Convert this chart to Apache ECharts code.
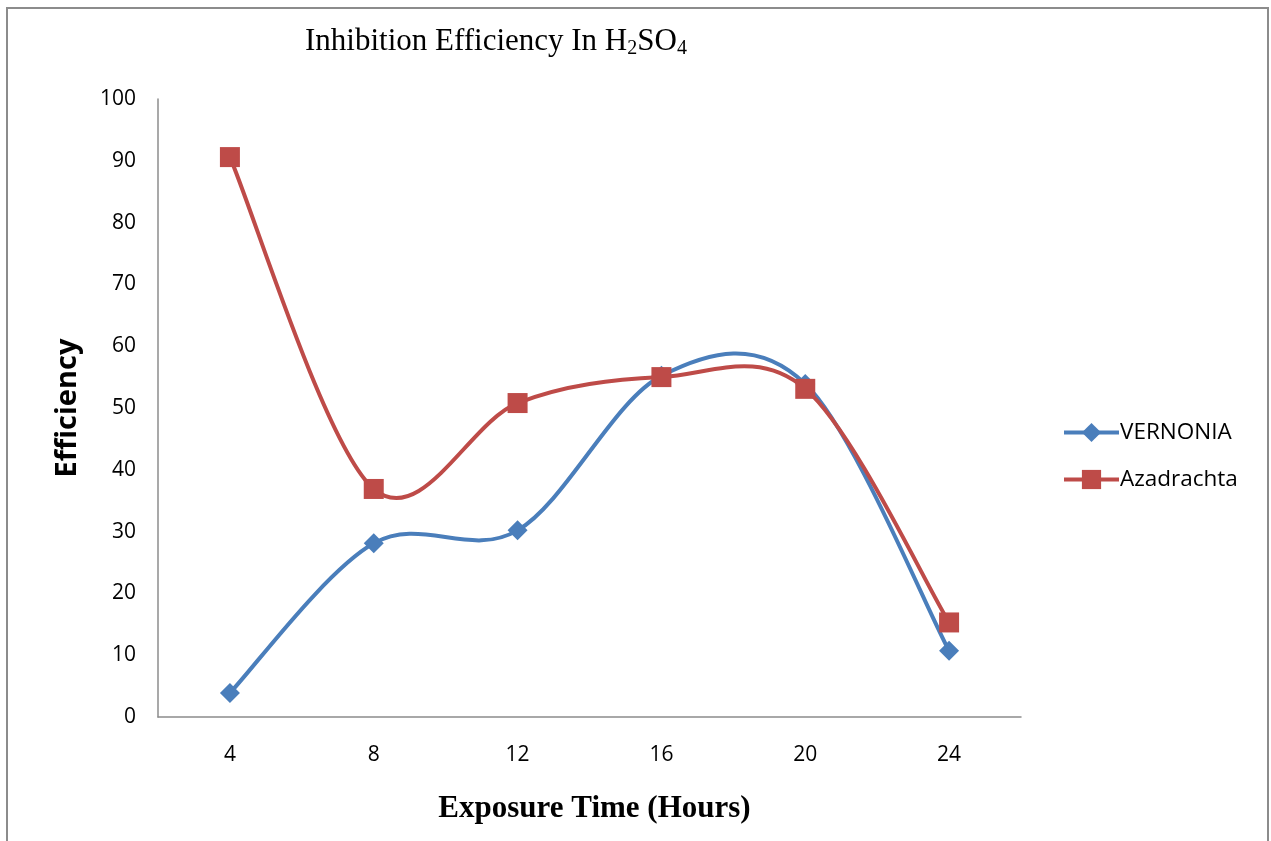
<!DOCTYPE html>
<html>
<head>
<meta charset="utf-8">
<script src="https://cdn.jsdelivr.net/npm/echarts@6/dist/echarts.min.js"></script>
<style>
  html, body { margin: 0; padding: 0; background: #fff; }
  #chart { position: absolute; left: 0; top: 0; width: 1271px; height: 841px; }
  #frame { position: absolute; left: 6px; top: 7px; width: 1259px; height: 860px;
           border: 2px solid #8c8c8c; pointer-events: none; }
</style>
</head>
<body>
<div id="chart"></div>
<div id="frame"></div>
<script>
/* ── data ── */
const hours = ["4", "8", "12", "16", "20", "24"];
const vernonia = [3.9, 28.1, 30.2, 55.2, 53.9, 10.7];
const azadrachta = [90.6, 36.9, 50.8, 55.0, 53.1, 15.3];
const yTicks = [0, 10, 20, 30, 40, 50, 60, 70, 80, 90, 100];

/* ── style ── */
const BLUE = "#4a7ebb";
const RED = "#be4b48";
const SANS = "Open Sans, Lato, sans-serif";
const SERIF = "Liberation Serif, Times New Roman, serif";

const chart = echarts.init(document.getElementById("chart"));

/* Excel-style smoothing: Catmull-Rom segments as cubic beziers,
   one custom item per segment (i -> i+1) */
function smoothSegment(values, color) {
  return function (params, api) {
    const i = params.dataIndex;
    if (i >= values.length - 1) return null;
    const pt = (k) => {
      k = Math.max(0, Math.min(values.length - 1, k));
      return api.coord([k, values[k]]);
    };
    const p0 = pt(i - 1), p1 = pt(i), p2 = pt(i + 1), p3 = pt(i + 2);
    return {
      type: "bezierCurve",
      shape: {
        x1: p1[0], y1: p1[1],
        cpx1: p1[0] + (p2[0] - p0[0]) / 6, cpy1: p1[1] + (p2[1] - p0[1]) / 6,
        cpx2: p2[0] - (p3[0] - p1[0]) / 6, cpy2: p2[1] - (p3[1] - p1[1]) / 6,
        x2: p2[0], y2: p2[1],
      },
      style: { stroke: color, lineWidth: 4, fill: null, lineCap: "round" },
    };
  };
}

function curveSeries(name, values, color) {
  return {
    name: name + " curve",
    type: "custom",
    renderItem: smoothSegment(values, color),
    data: values.map((v, i) => [i, v]),
    encode: { x: 0, y: 1 },
    silent: true,
    z: 2,
  };
}

chart.setOption({
  animation: false,
  title: {
    text: "{t|Inhibition Efficiency In H}{s|2}{t|SO}{s|4}",
    left: 300, top: 19,
    textStyle: {
      rich: {
        t: { fontFamily: SERIF, fontSize: 31, fontWeight: "normal", color: "#000" },
        s: { fontFamily: SERIF, fontSize: 20, fontWeight: "normal", color: "#000", padding: [15, 0, 0, 0] },
      },
    },
  },
  legend: {
    orient: "vertical",
    left: 1062, top: 421, padding: 0,
    itemWidth: 55, itemHeight: 24, itemGap: 24,
    textStyle: { fontFamily: SANS, fontSize: 22.5, color: "#000", padding: [0, 0, 0, -4] },
    data: [
      { name: "VERNONIA", lineStyle: { opacity: 1, width: 4 } },
      { name: "Azadrachta", lineStyle: { opacity: 1, width: 4 } },
    ],
  },
  grid: { left: 158, right: 250, top: 99, bottom: 124 },
  xAxis: {
    type: "category",
    data: hours,
    boundaryGap: true,
    name: "Exposure Time (Hours)",
    nameLocation: "middle",
    nameGap: 76,
    nameTextStyle: { fontFamily: SERIF, fontSize: 31, fontWeight: "bold", color: "#000", padding: [0, 0, 0, 10] },
    axisLine: { lineStyle: { color: "#8c8c8c", width: 1.5 } },
    axisTick: { show: false },
    axisLabel: { fontFamily: SANS, fontSize: 21, color: "#000", margin: 28 },
    splitLine: { show: false },
  },
  yAxis: {
    type: "value",
    min: yTicks[0], max: yTicks[yTicks.length - 1], interval: 10,
    name: "Efficiency",
    nameLocation: "middle",
    nameGap: 76,
    nameTextStyle: { fontFamily: SANS, fontSize: 29, fontWeight: "bold", color: "#000" },
    axisLine: { show: true, lineStyle: { color: "#8c8c8c", width: 1.5 } },
    axisTick: { show: false },
    axisLabel: { fontFamily: SANS, fontSize: 21, color: "#000", margin: 22 },
    splitLine: { show: false },
  },
  series: [
    curveSeries("VERNONIA", vernonia, BLUE),
    curveSeries("Azadrachta", azadrachta, RED),
    {
      name: "VERNONIA",
      type: "line",
      data: vernonia,
      symbol: "diamond",
      symbolSize: 20,
      lineStyle: { color: BLUE, width: 4, opacity: 0 },
      itemStyle: { color: BLUE },
      z: 3,
    },
    {
      name: "Azadrachta",
      type: "line",
      data: azadrachta,
      symbol: "rect",
      symbolSize: 20,
      lineStyle: { color: RED, width: 4, opacity: 0 },
      itemStyle: { color: RED },
      z: 4,
    },
  ],
});
</script>
</body>
</html>
